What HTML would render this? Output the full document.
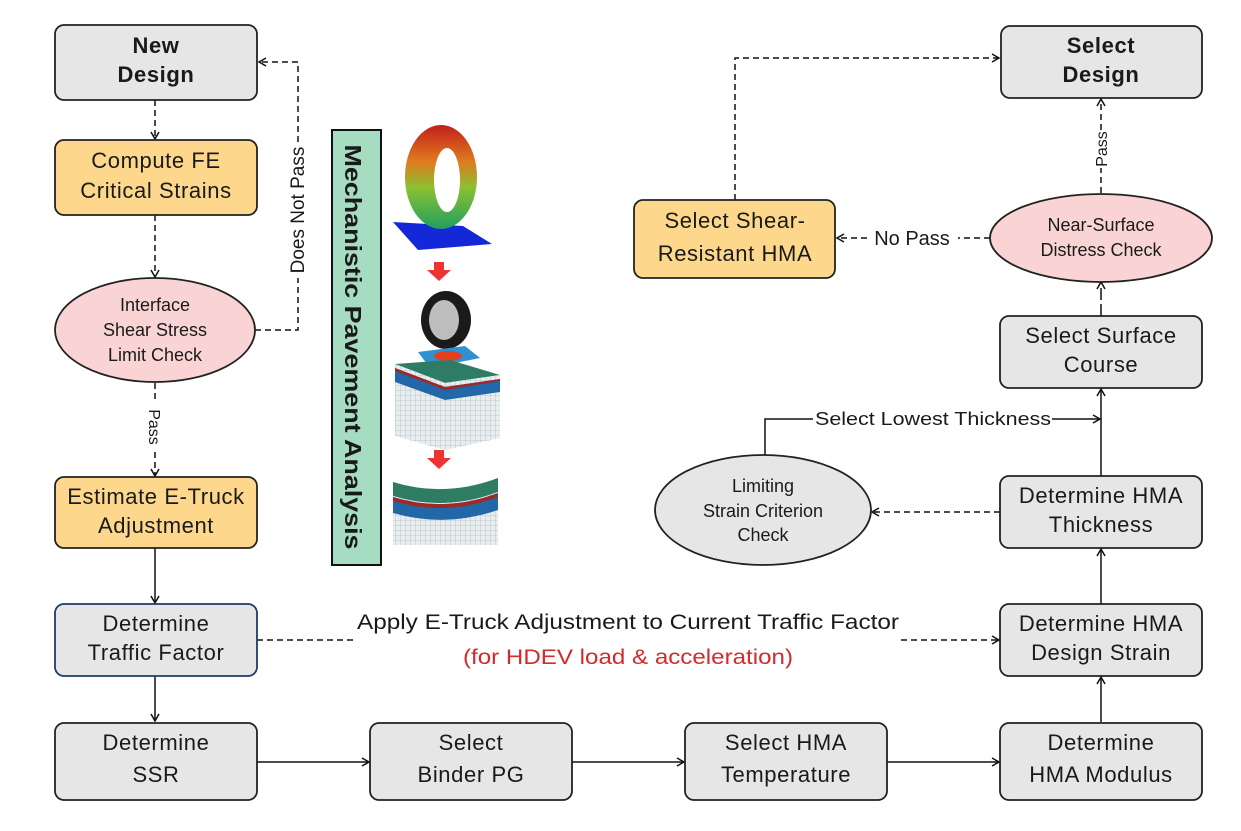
<!DOCTYPE html>
<html><head><meta charset="utf-8"><style>
html,body{margin:0;padding:0;background:#fff}
svg{display:block}
text{font-family:"Liberation Sans",Arial,sans-serif;fill:#1a1a1a}
.b{font-size:22px;text-anchor:middle;letter-spacing:0.6px}
.e{font-size:18px;text-anchor:middle}
.l{font-size:18px}
</style></head><body>
<svg width="1241" height="831" viewBox="0 0 1241 831" xmlns="http://www.w3.org/2000/svg">
<defs>
<marker id="a" markerWidth="10" markerHeight="10" refX="8" refY="5" orient="auto" markerUnits="userSpaceOnUse">
<path d="M1,1 L8,5 L1,9" fill="none" stroke="#111" stroke-width="1.5"/></marker>
<linearGradient id="tire" x1="0" y1="0" x2="0" y2="1"><stop offset="0" stop-color="#c0201a"/><stop offset="0.35" stop-color="#e07a20"/><stop offset="0.6" stop-color="#8cc030"/><stop offset="1" stop-color="#20a060"/></linearGradient>
<pattern id="mesh" width="5" height="5" patternUnits="userSpaceOnUse"><rect width="5" height="5" fill="#e8eef0"/><path d="M0,0H5M0,0V5" stroke="#9aa8ae" stroke-width="0.6"/></pattern>
</defs>
<g stroke="#111" stroke-width="1.5" fill="none">
<line x1="155" y1="100" x2="155" y2="139" stroke-dasharray="6,4" marker-end="url(#a)"/>
<line x1="155" y1="215" x2="155" y2="277" stroke-dasharray="6,4" marker-end="url(#a)"/>
<line x1="155" y1="383" x2="155" y2="403" stroke-dasharray="6,4"/>
<line x1="155" y1="452" x2="155" y2="476" stroke-dasharray="6,4" marker-end="url(#a)"/>
<polyline points="255,330 298,330 298,278" stroke-dasharray="6,4"/>
<polyline points="298,142 298,62 259,62" stroke-dasharray="6,4" marker-end="url(#a)"/>
<line x1="155" y1="548" x2="155" y2="603" marker-end="url(#a)"/>
<line x1="155" y1="676" x2="155" y2="721" marker-end="url(#a)"/>
<line x1="257" y1="762" x2="369" y2="762" marker-end="url(#a)"/>
<line x1="572" y1="762" x2="684" y2="762" marker-end="url(#a)"/>
<line x1="887" y1="762" x2="999" y2="762" marker-end="url(#a)"/>
<line x1="1101" y1="722" x2="1101" y2="677" marker-end="url(#a)"/>
<line x1="1101" y1="604" x2="1101" y2="549" marker-end="url(#a)"/>
<line x1="1101" y1="476" x2="1101" y2="389" marker-end="url(#a)"/>
<line x1="1101" y1="316" x2="1101" y2="282" stroke-dasharray="12,4" marker-end="url(#a)"/>
<line x1="1101" y1="193" x2="1101" y2="168" stroke-dasharray="6,4"/>
<line x1="1101" y1="130" x2="1101" y2="99" stroke-dasharray="6,4" marker-end="url(#a)"/>
<line x1="257" y1="640" x2="356" y2="640" stroke-dasharray="6,4"/>
<line x1="901" y1="640" x2="999" y2="640" stroke-dasharray="6,4" marker-end="url(#a)"/>
<line x1="1000" y1="512" x2="872" y2="512" stroke-dasharray="6,4" marker-end="url(#a)"/>
<polyline points="765,456 765,419 813,419"/>
<line x1="1052" y1="419" x2="1100" y2="419" marker-end="url(#a)"/>
<line x1="990" y1="238" x2="958" y2="238" stroke-dasharray="6,4"/>
<line x1="867" y1="238" x2="837" y2="238" stroke-dasharray="6,4" marker-end="url(#a)"/>
<polyline points="735,200 735,58 999,58" stroke-dasharray="6,4" marker-end="url(#a)"/>
</g>
<g stroke="#222" stroke-width="1.8">
<rect x="55" y="25" width="202" height="75" rx="9" fill="#e6e6e6"/>
<rect x="55" y="140" width="202" height="75" rx="9" fill="#fdd88c"/>
<ellipse cx="155" cy="330" rx="100" ry="52" fill="#fad4d4"/>
<rect x="55" y="477" width="202" height="71" rx="9" fill="#fdd88c"/>
<rect x="55" y="604" width="202" height="72" rx="9" fill="#e6e6e6" stroke="#1f3c6a"/>
<rect x="55" y="723" width="202" height="77" rx="9" fill="#e6e6e6"/>
<rect x="370" y="723" width="202" height="77" rx="9" fill="#e6e6e6"/>
<rect x="685" y="723" width="202" height="77" rx="9" fill="#e6e6e6"/>
<rect x="1000" y="723" width="202" height="77" rx="9" fill="#e6e6e6"/>
<rect x="1000" y="604" width="202" height="72" rx="9" fill="#e6e6e6"/>
<rect x="1000" y="476" width="202" height="72" rx="9" fill="#e6e6e6"/>
<ellipse cx="763" cy="510" rx="108" ry="55" fill="#e6e6e6"/>
<rect x="1000" y="316" width="202" height="72" rx="9" fill="#e6e6e6"/>
<ellipse cx="1101" cy="238" rx="111" ry="44" fill="#fad4d4"/>
<rect x="634" y="200" width="201" height="78" rx="9" fill="#fdd88c"/>
<rect x="1001" y="26" width="201" height="72" rx="9" fill="#e6e6e6"/>
<rect x="332" y="130" width="49" height="435" fill="#a6dcc2" stroke="#111" stroke-width="2"/>
</g>
<text transform="translate(345,347) rotate(90)" style="font-size:23px;font-weight:bold;text-anchor:middle" textLength="405" lengthAdjust="spacingAndGlyphs">Mechanistic Pavement Analysis</text>
<polygon points="393,222 463,226 492,244 418,250" fill="#1428d8"/>
<ellipse cx="441" cy="177" rx="36" ry="52" fill="url(#tire)"/>
<ellipse cx="447" cy="180" rx="13" ry="32" fill="#fff"/>
<polygon points="434,262 444,262 444,270 451,270 439,281 427,270 434,270" fill="#ee3333"/>
<ellipse cx="446" cy="320" rx="25" ry="29" fill="#1a1a1a"/>
<ellipse cx="444" cy="320" rx="15" ry="20" fill="#bdbdbd"/>
<polygon points="418,352 465,346 480,358 430,368" fill="#3090d0"/>
<ellipse cx="448" cy="356" rx="14" ry="5" fill="#e04020"/>
<polygon points="395,364 450,360 500,375 445,383" fill="#2e7c64"/>
<polygon points="395,364 445,383 445,450 395,436" fill="url(#mesh)"/>
<polygon points="445,383 500,375 500,438 445,450" fill="url(#mesh)"/>
<polygon points="395,368 445,387 500,379 500,392 445,400 395,382" fill="#2268a8"/>
<polygon points="395,368 445,387 500,379 500,381 445,390 395,371" fill="#a02828"/>
<polygon points="434,450 444,450 444,458 451,458 439,469 427,458 434,458" fill="#ee3333"/>
<path d="M393,482 Q445,498 498,478 L498,492 Q445,512 393,496 Z" fill="#2e7c64"/>
<path d="M393,496 Q445,512 498,492 L498,545 L393,545 Z" fill="url(#mesh)"/>
<path d="M393,497 Q445,513 498,493 L498,510 Q445,528 393,513 Z" fill="#2268a8"/>
<path d="M393,497 Q445,513 498,493 L498,497 Q445,517 393,501 Z" fill="#a02828"/>
<text class="b" x="156" y="53" style="font-weight:bold">New</text>
<text class="b" x="156" y="82" style="font-weight:bold">Design</text>
<text class="b" x="156" y="168">Compute FE</text>
<text class="b" x="156" y="198">Critical Strains</text>
<text class="e" x="155" y="311">Interface</text>
<text class="e" x="155" y="336">Shear Stress</text>
<text class="e" x="155" y="361">Limit Check</text>
<text class="b" x="156" y="504">Estimate E-Truck</text>
<text class="b" x="156" y="533">Adjustment</text>
<text class="b" x="156" y="631">Determine</text>
<text class="b" x="156" y="660">Traffic Factor</text>
<text class="b" x="156" y="750">Determine</text>
<text class="b" x="156" y="782">SSR</text>
<text class="b" x="471" y="750">Select</text>
<text class="b" x="471" y="782">Binder PG</text>
<text class="b" x="786" y="750">Select HMA</text>
<text class="b" x="786" y="782">Temperature</text>
<text class="b" x="1101" y="750">Determine</text>
<text class="b" x="1101" y="782">HMA Modulus</text>
<text class="b" x="1101" y="631">Determine HMA</text>
<text class="b" x="1101" y="660">Design Strain</text>
<text class="b" x="1101" y="503">Determine HMA</text>
<text class="b" x="1101" y="532">Thickness</text>
<text class="e" x="763" y="492">Limiting</text>
<text class="e" x="763" y="517">Strain Criterion</text>
<text class="e" x="763" y="541">Check</text>
<text class="b" x="1101" y="343">Select Surface</text>
<text class="b" x="1101" y="372">Course</text>
<text class="e" x="1101" y="231">Near-Surface</text>
<text class="e" x="1101" y="256">Distress Check</text>
<text class="b" x="735" y="228">Select Shear-</text>
<text class="b" x="735" y="261">Resistant HMA</text>
<text class="b" x="1101" y="53" style="font-weight:bold">Select</text>
<text class="b" x="1101" y="82" style="font-weight:bold">Design</text>
<text class="l" x="912" y="245" text-anchor="middle" style="font-size:20px">No Pass</text>
<text class="l" x="933" y="425" text-anchor="middle" textLength="236" lengthAdjust="spacingAndGlyphs">Select Lowest Thickness</text>
<text class="l" transform="translate(304,210) rotate(-90)" text-anchor="middle" style="font-size:19px">Does Not Pass</text>
<text class="l" transform="translate(149,427) rotate(90)" text-anchor="middle" style="font-size:16px">Pass</text>
<text class="l" transform="translate(1107,149) rotate(-90)" text-anchor="middle" style="font-size:16px">Pass</text>
<text x="628" y="629" style="font-size:21px;text-anchor:middle" textLength="542" lengthAdjust="spacingAndGlyphs">Apply E-Truck Adjustment to Current Traffic Factor</text>
<text x="628" y="664" style="font-size:21px;text-anchor:middle;fill:#d42a2a" textLength="330" lengthAdjust="spacingAndGlyphs">(for HDEV load &amp; acceleration)</text>
</svg>
</body></html>
